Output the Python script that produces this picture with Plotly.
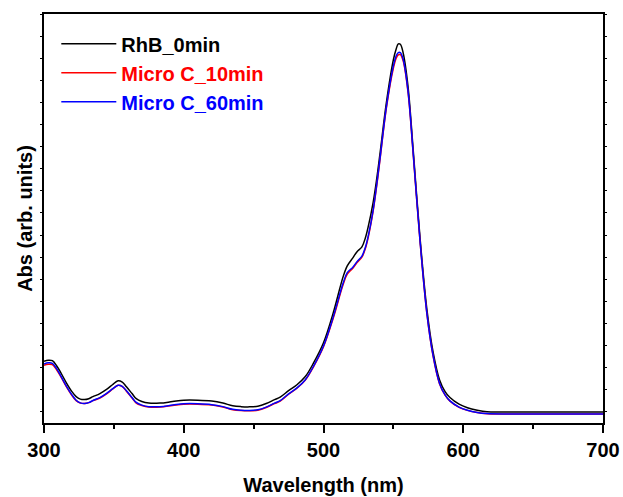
import plotly.graph_objects as go

# UV-vis absorbance spectra of RhB
wavelength = [300, 303, 306, 309, 312, 316, 320, 323, 326, 329,
              332, 335, 340, 345, 349, 353, 356, 359, 363, 366,
              370, 375, 383, 392, 400, 410, 420, 428, 435, 441,
              447, 453, 459, 465, 469, 475, 481, 487, 493, 500,
              507, 514, 517, 521, 524, 527.5, 530, 532, 535.5, 538,
              540.5, 545, 550, 552, 553.5, 555, 557, 560.5, 564, 569,
              574, 578.5, 583, 587, 590.5, 597, 603, 610, 617, 630,
              650, 670, 700]

rhb_0min = [0.229, 0.234, 0.232, 0.209, 0.178, 0.132, 0.092, 0.069, 0.058, 0.056,
            0.060, 0.069, 0.083, 0.103, 0.123, 0.141, 0.135, 0.114, 0.083, 0.060,
            0.047, 0.040, 0.040, 0.047, 0.053, 0.053, 0.049, 0.040, 0.028, 0.024,
            0.023, 0.026, 0.038, 0.056, 0.067, 0.096, 0.123, 0.160, 0.223, 0.313,
            0.449, 0.611, 0.661, 0.697, 0.725, 0.747, 0.788, 0.838, 0.947, 1.051,
            1.172, 1.399, 1.593, 1.642, 1.665, 1.663, 1.624, 1.471, 1.200, 0.793,
            0.463, 0.268, 0.146, 0.092, 0.065, 0.035, 0.019, 0.008, 0.001, 0.000,
            0.000, 0.000, 0.000]

micro_c_10min = [0.211, 0.216, 0.214, 0.191, 0.160, 0.114, 0.074, 0.051, 0.040, 0.038,
                 0.042, 0.051, 0.063, 0.083, 0.103, 0.121, 0.115, 0.094, 0.063, 0.040,
                 0.029, 0.022, 0.022, 0.029, 0.035, 0.035, 0.031, 0.022, 0.010, 0.006,
                 0.005, 0.008, 0.020, 0.038, 0.049, 0.080, 0.107, 0.144, 0.206, 0.295,
                 0.425, 0.575, 0.623, 0.650, 0.676, 0.700, 0.740, 0.790, 0.908, 1.020,
                 1.145, 1.375, 1.555, 1.600, 1.615, 1.616, 1.588, 1.445, 1.182, 0.778,
                 0.444, 0.250, 0.128, 0.076, 0.049, 0.021, 0.007, -0.003, -0.008, -0.009,
                 -0.009, -0.009, -0.009]

micro_c_60min = [0.217, 0.222, 0.220, 0.196, 0.163, 0.117, 0.077, 0.053, 0.041, 0.038,
                 0.042, 0.052, 0.065, 0.085, 0.104, 0.121, 0.116, 0.096, 0.065, 0.043,
                 0.031, 0.024, 0.024, 0.031, 0.037, 0.037, 0.033, 0.024, 0.012, 0.008,
                 0.007, 0.010, 0.022, 0.040, 0.051, 0.082, 0.109, 0.146, 0.208, 0.298,
                 0.430, 0.582, 0.630, 0.655, 0.680, 0.705, 0.745, 0.795, 0.912, 1.025,
                 1.150, 1.380, 1.565, 1.610, 1.625, 1.625, 1.595, 1.450, 1.185, 0.780,
                 0.445, 0.252, 0.130, 0.077, 0.050, 0.022, 0.008, -0.002, -0.007, -0.009,
                 -0.009, -0.009, -0.009]

series = [
    ('RhB_0min', rhb_0min, 'black'),
    ('Micro C_10min', micro_c_10min, 'red'),
    ('Micro C_60min', micro_c_60min, 'blue'),
]

fig = go.Figure()
for name, vals, col in series:
    fig.add_trace(go.Scatter(
        x=wavelength, y=vals, mode='lines', line_shape='spline',
        line=dict(color=col, width=1.5),
        name="<span style='color:{}'>{}</span>".format(col, name)))

axis_font = dict(family='Liberation Sans, Arial', size=20, color='black')

fig.update_layout(
    width=623, height=497,
    margin=dict(l=44, r=20, t=14, b=74),
    plot_bgcolor='white', paper_bgcolor='white',
    font=dict(family='Liberation Sans, Arial', color='black'),
    legend=dict(x=0.022, y=0.975, xanchor='left', yanchor='top',
                bgcolor='rgba(0,0,0,0)', tracegroupgap=0, itemwidth=55,
                font=dict(family='Liberation Sans, Arial', size=20, weight='bold')),
)

fig.update_xaxes(
    range=[300, 700], tick0=300, dtick=100, automargin=False,
    showgrid=False, zeroline=False,
    showline=True, linecolor='black', linewidth=1.5, mirror=True,
    ticks='outside', ticklen=8, tickwidth=1.5, tickcolor='black',
    minor=dict(dtick=50, ticks='outside', ticklen=4, tickwidth=1.5, tickcolor='black'),
    tickfont=dict(family='Liberation Sans, Arial', size=20, weight='bold'),
    title=dict(text='<b>Wavelength (nm)</b>', font=axis_font, standoff=18),
)

fig.update_yaxes(
    range=[-0.05, 1.8], tick0=0, dtick=0.1, automargin=False,
    showgrid=False, zeroline=False, showticklabels=False,
    showline=True, linecolor='black', linewidth=1.5, mirror='ticks',
    ticks='outside', ticklen=2, tickwidth=1.2, tickcolor='black',
    title=dict(text='<b>Abs (arb. units)</b>', font=axis_font, standoff=2),
)

# drop the page's default body margin so the figure fills the window exactly
fig.write_html("out.html", config={'displayModeBar': False},
               post_script="document.body.style.margin='0';")
